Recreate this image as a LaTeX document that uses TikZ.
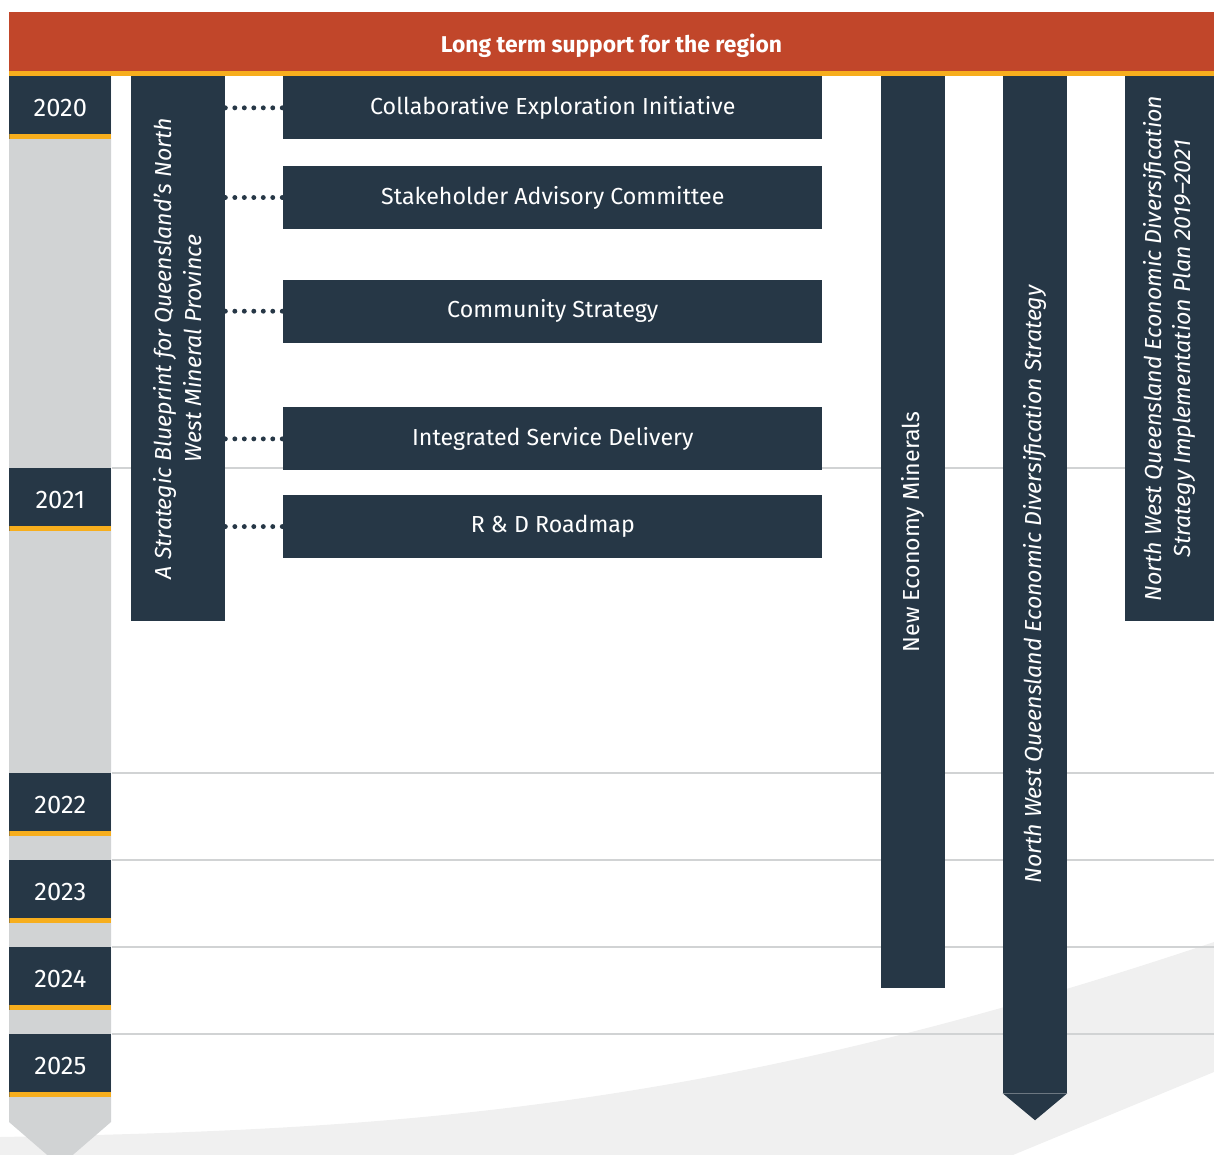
\documentclass[tikz,border=0pt]{standalone}
\usepackage{fontspec}
\setmainfont{Fira Sans}
\usetikzlibrary{positioning, calc}
\definecolor{navy}{HTML}{263746}
\definecolor{rust}{HTML}{C1462A}
\definecolor{amber}{HTML}{F7AE1D}
\definecolor{rulegrey}{HTML}{D1D3D4}
\definecolor{haze}{HTML}{F0F0F0}
\tikzset{
every node/.append style={inner sep=0pt, text=white},
banner/.style={fill=rust, minimum width=24.1cm, minimum height=1.18cm},
title/.style={font=\fontsize{13}{15}\selectfont\bfseries},
year/.style={fill=navy, anchor=north west, minimum width=2.04cm, minimum height=1.26cm,
    font=\fontsize{14.5}{17}\selectfont,
    path picture={\fill[amber] ([yshift=0.1cm]path picture bounding box.south west)
        rectangle (path picture bounding box.south east);}},
task/.style={fill=navy, minimum width=10.78cm, minimum height=1.26cm,
    font=\fontsize{13.2}{15}\selectfont},
bar/.style={fill=navy, rotate=90, align=center,
    font=\fontsize{13.2}{17}\selectfont},
slanted/.style={font=\fontsize{13.2}{17}\selectfont\itshape},
link/.style={navy, line width=2.8pt, line cap=round, dash pattern=on 0pt off 5.4pt},
rule/.style={rulegrey, line width=1.2pt},
}

\begin{document}
\begin{tikzpicture}[x=0.02cm, y=-0.02cm]
    \useasboundingbox (0,0) rectangle (1214,1155);

    % Background swoosh and timeline column
    \fill[haze] (0,1137) .. controls (400,1130) and (714,1110) .. (1214,942)
        -- (1214,1072) -- (1013,1155) -- (0,1155) -- cycle;
    \fill[rulegrey] (9,76) -- (111,76) -- (111,1122) -- (60,1166) -- (9,1122) -- cycle;

    % Header
    \node[banner] (top) at (611.5,41.5) {};
    \node[title] (title) at ($(top.center)+(0,4)$) {Long term support for the region};
    \fill[amber] (top.south west) rectangle ++(1205,5);

    % Years
    \node[year] (y20) at (9,76) {2020};
    \node[year] (y21) at (9,468) {2021};
    \node[year] (y22) at (9,773) {2022};
    \node[year] (y23) at (9,860) {2023};
    \node[year] (y24) at (9,947) {2024};
    \node[year] (y25) at (9,1034) {2025};

    % Year rules
    \draw[rule] (y21.north east) -- ++(1103,0);
    \draw[rule] (y22.north east) -- ++(1103,0);
    \draw[rule] (y23.north east) -- ++(1103,0);
    \draw[rule] (y24.north east) -- ++(1103,0);
    \draw[rule] (y25.north east) -- ++(1103,0);

    % Strategies
    \node[bar, slanted, minimum width=10.9cm, minimum height=1.88cm]
        (bp) at (178,348.5) {A Strategic Blueprint for Queensland’s North\\West Mineral Province};
    \node[bar, minimum width=18.24cm, minimum height=1.28cm] (nem) at (913,532) {New Economy Minerals};
    \node[bar, slanted, minimum width=20.34cm, minimum height=1.28cm]
        (eds) at (1035,584.5) {North West Queensland Economic Diversification Strategy};
    \node[bar, slanted, minimum width=10.9cm, minimum height=1.78cm]
        (plan) at (1169.5,348.5) {North West Queensland Economic Diversification\\Strategy Implementation Plan 2019--2021};
    \fill[navy] (eds.north west) -- (eds.south west) -- ($(eds.west)+(0,27)$) -- cycle;

    % Initiatives
    \node[task, anchor=north west] (cei) at (283,76) {Collaborative Exploration Initiative};
    \node[task, below=0.52cm of cei] (sac) {Stakeholder Advisory Committee};
    \node[task, below=1cm of sac] (cs) {Community Strategy};
    \node[task, below=1.28cm of cs] (isd) {Integrated Service Delivery};
    \node[task, below=0.48cm of isd] (rd) {R \& D Roadmap};

    % Links from the blueprint
    \draw[link] (bp.south |- cei.west) -- (cei.west);
    \draw[link] (bp.south |- sac.west) -- (sac.west);
    \draw[link] (bp.south |- cs.west) -- (cs.west);
    \draw[link] (bp.south |- isd.west) -- (isd.west);
    \draw[link] (bp.south |- rd.west) -- (rd.west);
\end{tikzpicture}
\end{document}
